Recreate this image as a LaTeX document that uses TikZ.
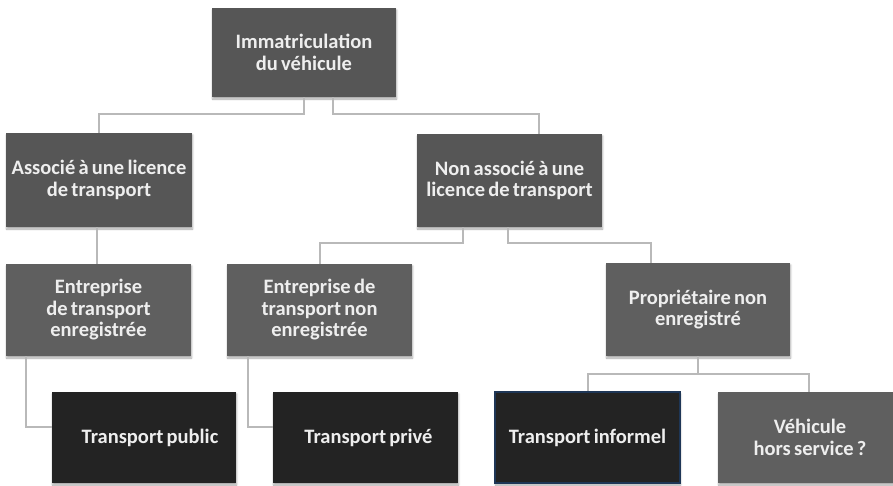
\documentclass[tikz,border=0pt]{standalone}
\usepackage{fontspec}
\setmainfont{Carlito}[WordSpace=0.7]
\usetikzlibrary{shadows.blur}

\definecolor{boxgray}{HTML}{565656}
\definecolor{boxmid}{HTML}{5F5F5F}
\definecolor{boxdark}{HTML}{232323}
\definecolor{linkgray}{HTML}{B9B9B9}
\definecolor{navyedge}{HTML}{1E3656}
\definecolor{txt}{HTML}{EEEEEE}

\tikzset{
  box/.style={rectangle, inner sep=2pt, align=center, text=txt,
    font=\fontsize{20.5}{21.5}\selectfont\bfseries,
    blur shadow={shadow xshift=0.6pt, shadow yshift=-2pt,
                 shadow blur steps=6, shadow opacity=35}},
  upper/.style={box, fill=boxgray},
  middle/.style={box, fill=boxmid},
  leaf/.style={box, fill=boxdark},
  link/.style={draw=linkgray, line width=2pt, line join=miter}
}

\begin{document}
\begin{tikzpicture}[x=1pt, y=-1pt]
  \useasboundingbox (0,0) rectangle (893,485);
  \clip (0,0) rectangle (893,485);

  % level 0
  \node[upper, minimum width=184pt, minimum height=89pt] (top) at (304,52.5)
    {Immatriculation\\du véhicule};

  % level 1
  \node[upper, minimum width=186pt, minimum height=94pt] (assoc) at (99,180)
    {Associé à une licence\\de transport};
  \node[upper, minimum width=185pt, minimum height=93pt] (nonassoc) at (509.5,180.5)
    {Non associé à une\\licence de transport};

  % level 2
  \node[middle, minimum width=185pt, minimum height=92pt] (entreg) at (98.5,310)
    {Entreprise\\de transport\\enregistrée};
  \node[middle, minimum width=185pt, minimum height=92pt] (entnon) at (319.5,310)
    {Entreprise de\\transport non\\enregistrée};
  \node[middle, minimum width=184pt, minimum height=93pt] (proprio) at (698,309.5)
    {Propriétaire non\\enregistré};

  % level 3
  \node[leaf, minimum width=184pt, minimum height=91pt] (tpub) at (144,437.5)
    {\hspace*{12pt}Transport public};
  \node[leaf, minimum width=185pt, minimum height=91pt] (tpriv) at (365.5,437.5)
    {\hspace*{6pt}Transport privé};
  \node[leaf, draw=navyedge, line width=1.2pt, minimum width=185pt, minimum height=91pt]
    (tinf) at (587.5,437.5) {Transport informel};
  \node[middle, minimum width=184pt, minimum height=91pt] (vhs) at (810,437.5)
    {Véhicule\\hors service ?};

  % connectors
  \draw[link] (top.south) -- ++(0,17) -| (assoc.north);
  \draw[link] ([xshift=29pt]top.south) -- ++(0,17) -| ([xshift=29pt]nonassoc.north);
  \draw[link] ([xshift=-2pt]assoc.south) -- ([xshift=-1.5pt]entreg.north);
  \draw[link] ([xshift=-46.5pt]nonassoc.south) -- ++(0,16) -| (entnon.north);
  \draw[link] ([xshift=-1.5pt]nonassoc.south) -- ++(0,16) -| ([xshift=-47pt]proprio.north);
  \draw[link] ([xshift=20pt]entreg.south west) |- ([yshift=10.5pt]tpub.west);
  \draw[link] ([xshift=21pt]entnon.south west) |- ([yshift=10.5pt]tpriv.west);
  \draw[link] (proprio.south) -- ++(0,18) -| (tinf.north);
  \draw[link] (proprio.south) -- ++(0,18) -| ([xshift=-1pt]vhs.north);
\end{tikzpicture}
\end{document}
